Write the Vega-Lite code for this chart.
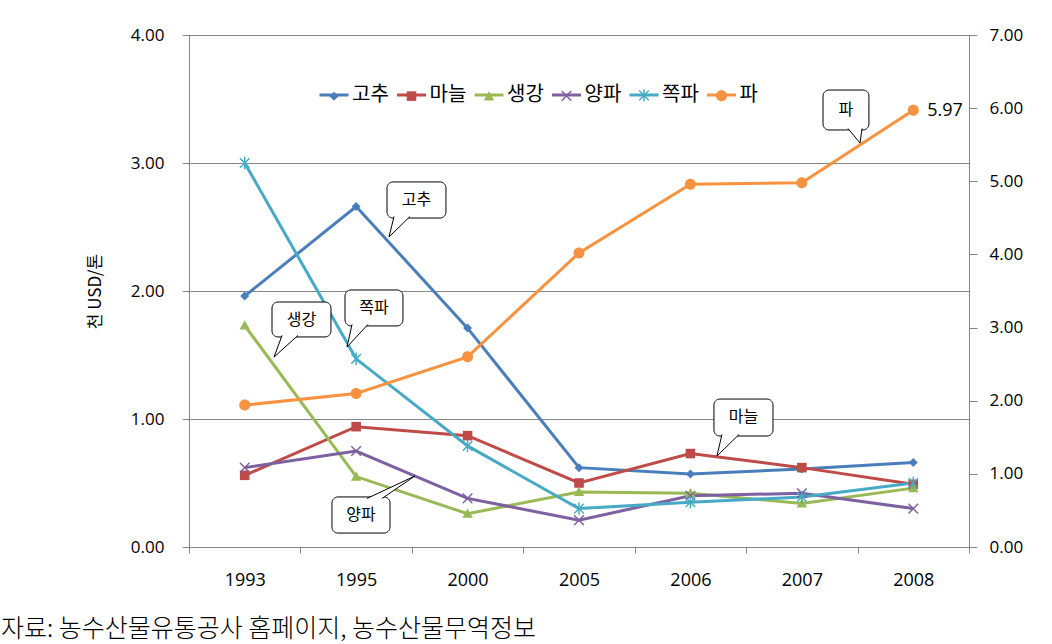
{
  "$schema": "https://vega.github.io/schema/vega-lite/v6.json",
  "width": 780,
  "height": 512,
  "autosize": {"type": "none"},
  "padding": {"left": 189, "top": 35, "right": 83, "bottom": 97},
  "background": "white",
  "config": {
    "view": {"stroke": null},
    "axis": {
      "domainColor": "#868686",
      "tickColor": "#868686",
      "gridColor": "#868686",
      "labelColor": "black",
      "labelFont": "Open Sans",
      "labelFontSize": 17,
      "titleColor": "black"
    }
  },
  "title": {
    "text": "자료: 농수산물유통공사 홈페이지, 농수산물무역정보",
    "orient": "bottom",
    "anchor": "start",
    "frame": "group",
    "dx": -188,
    "offset": 28,
    "baseline": "top",
    "font": "Noto Sans CJK KR",
    "fontSize": 25,
    "fontWeight": 300,
    "color": "black"
  },
  "datasets": {
    "prices": [
      {"year": "1993", "series": "고추", "value": 1.96},
      {"year": "1995", "series": "고추", "value": 2.66},
      {"year": "2000", "series": "고추", "value": 1.71},
      {"year": "2005", "series": "고추", "value": 0.62},
      {"year": "2006", "series": "고추", "value": 0.57},
      {"year": "2007", "series": "고추", "value": 0.61},
      {"year": "2008", "series": "고추", "value": 0.66},
      {"year": "1993", "series": "마늘", "value": 0.56},
      {"year": "1995", "series": "마늘", "value": 0.94},
      {"year": "2000", "series": "마늘", "value": 0.87},
      {"year": "2005", "series": "마늘", "value": 0.50},
      {"year": "2006", "series": "마늘", "value": 0.73},
      {"year": "2007", "series": "마늘", "value": 0.62},
      {"year": "2008", "series": "마늘", "value": 0.49},
      {"year": "1993", "series": "생강", "value": 1.73},
      {"year": "1995", "series": "생강", "value": 0.55},
      {"year": "2000", "series": "생강", "value": 0.26},
      {"year": "2005", "series": "생강", "value": 0.43},
      {"year": "2006", "series": "생강", "value": 0.42},
      {"year": "2007", "series": "생강", "value": 0.34},
      {"year": "2008", "series": "생강", "value": 0.46},
      {"year": "1993", "series": "양파", "value": 0.62},
      {"year": "1995", "series": "양파", "value": 0.75},
      {"year": "2000", "series": "양파", "value": 0.38},
      {"year": "2005", "series": "양파", "value": 0.21},
      {"year": "2006", "series": "양파", "value": 0.40},
      {"year": "2007", "series": "양파", "value": 0.42},
      {"year": "2008", "series": "양파", "value": 0.30},
      {"year": "1993", "series": "쪽파", "value": 3.00},
      {"year": "1995", "series": "쪽파", "value": 1.47},
      {"year": "2000", "series": "쪽파", "value": 0.79},
      {"year": "2005", "series": "쪽파", "value": 0.30},
      {"year": "2006", "series": "쪽파", "value": 0.35},
      {"year": "2007", "series": "쪽파", "value": 0.39},
      {"year": "2008", "series": "쪽파", "value": 0.50},
      {"year": "1993", "series": "파", "value": 1.94},
      {"year": "1995", "series": "파", "value": 2.10},
      {"year": "2000", "series": "파", "value": 2.60},
      {"year": "2005", "series": "파", "value": 4.02},
      {"year": "2006", "series": "파", "value": 4.96},
      {"year": "2007", "series": "파", "value": 4.98},
      {"year": "2008", "series": "파", "value": 5.97}
    ],
    "boxes": [
      {"id": "고추", "x1": 1.777, "x2": 2.306, "y1": 2.852, "y2": 2.570, "lx": 2.042, "ly": 2.711},
      {"id": "쪽파", "x1": 1.400, "x2": 1.920, "y1": 2.008, "y2": 1.727, "lx": 1.660, "ly": 1.867},
      {"id": "생강", "x1": 0.745, "x2": 1.274, "y1": 1.914, "y2": 1.641, "lx": 1.010, "ly": 1.777},
      {"id": "양파", "x1": 1.283, "x2": 1.804, "y1": 0.391, "y2": 0.109, "lx": 1.544, "ly": 0.250},
      {"id": "마늘", "x1": 4.711, "x2": 5.241, "y1": 1.156, "y2": 0.867, "lx": 4.976, "ly": 1.012},
      {"id": "파", "x1": 5.690, "x2": 6.102, "y1": 3.570, "y2": 3.258, "lx": 5.896, "ly": 3.414}
    ],
    "tails": [
      {"id": "고추", "k": 0, "tx": 1.840, "ty": 2.582},
      {"id": "고추", "k": 1, "tx": 1.795, "ty": 2.422},
      {"id": "고추", "k": 2, "tx": 1.983, "ty": 2.582},
      {"id": "쪽파", "k": 0, "tx": 1.463, "ty": 1.739},
      {"id": "쪽파", "k": 1, "tx": 1.418, "ty": 1.5625},
      {"id": "쪽파", "k": 2, "tx": 1.606, "ty": 1.739},
      {"id": "생강", "k": 0, "tx": 0.835, "ty": 1.653},
      {"id": "생강", "k": 1, "tx": 0.763, "ty": 1.484},
      {"id": "생강", "k": 2, "tx": 0.978, "ty": 1.653},
      {"id": "양파", "k": 0, "tx": 1.597, "ty": 0.379},
      {"id": "양파", "k": 1, "tx": 2.028, "ty": 0.555},
      {"id": "양파", "k": 2, "tx": 1.732, "ty": 0.379},
      {"id": "마늘", "k": 0, "tx": 4.783, "ty": 0.879},
      {"id": "마늘", "k": 1, "tx": 4.738, "ty": 0.711},
      {"id": "마늘", "k": 2, "tx": 4.936, "ty": 0.879},
      {"id": "파", "k": 0, "tx": 5.914, "ty": 3.270},
      {"id": "파", "k": 1, "tx": 6.022, "ty": 3.156},
      {"id": "파", "k": 2, "tx": 6.040, "ty": 3.270}
    ]
  },
  "layer": [
    {
      "data": {"name": "prices"},
      "transform": [{"filter": "datum.series !== '파'"}],
      "encoding": {
        "x": {
          "field": "year",
          "type": "ordinal",
          "scale": {"paddingInner": 0, "paddingOuter": 0},
          "axis": {
            "title": null,
            "labelAngle": 0,
            "tickBand": "extent",
            "tickSize": 6,
            "labelPadding": 18,
            "labelFontSize": 18,
            "grid": false
          }
        },
        "y": {
          "field": "value",
          "type": "quantitative",
          "scale": {"domain": [0, 4], "nice": false},
          "axis": {
            "title": "천 USD/톤",
            "titleFont": "Noto Sans CJK KR",
            "titleFontSize": 17,
            "titleFontWeight": "normal",
            "titlePadding": 26,
            "values": [0, 1, 2, 3, 4],
            "format": ".2f",
            "grid": true,
            "tickSize": 7,
            "labelPadding": 18
          }
        }
      },
      "layer": [
        {
          "mark": {"type": "line", "strokeWidth": 3},
          "encoding": {
            "stroke": {
              "field": "series",
              "type": "nominal",
              "scale": {"range": ["#4A7EBB", "#BE4B48", "#98B954", "#7D60A0", "#46AAC5", "#F69240"]},
              "legend": {"orient": "none", "direction": "horizontal", "legendX": 129, "legendY": 44, "title": null, "symbolType": "stroke", "symbolSize": 841, "symbolStrokeWidth": 3, "labelFont": "Noto Sans CJK KR", "labelFontSize": 20, "labelColor": "black", "labelOffset": 2, "columnPadding": 1.5}
            }
          }
        },
        {
          "mark": {"type": "point", "filled": true, "size": 841, "opacity": 1, "strokeWidth": 0},
          "encoding": {
            "color": {
              "field": "series", "type": "nominal",
              "scale": {"domain": ["고추", "마늘", "생강", "양파", "쪽파", "파"], "range": ["#4A7EBB", "#BE4B48", "#98B954", "#7D60A0", "#46AAC5", "#F69240"]},
              "legend": {"orient": "none", "direction": "horizontal", "legendX": 129, "legendY": 44, "title": null, "symbolSize": 841, "symbolStrokeWidth": 3, "symbolStrokeColor": "transparent", "labelFont": "Noto Sans CJK KR", "labelFontSize": 20, "labelOpacity": 0, "labelOffset": 2, "columnPadding": 6.5}
            },
            "shape": {
              "field": "series", "type": "nominal",
              "scale": {"domain": ["고추", "마늘", "생강", "양파", "쪽파", "파"], "range": [
                "M0,-0.31L0.31,0L0,0.31L-0.31,0Z",
                "M-0.33,-0.33H0.33V0.33H-0.33Z",
                "M0,-0.36L0.36,0.28H-0.36Z",
                "M-0.295,-0.365L0.365,0.295L0.295,0.365L-0.365,-0.295ZM-0.365,0.295L0.295,-0.365L0.365,-0.295L-0.295,0.365Z",
                "M-0.295,-0.365L0.365,0.295L0.295,0.365L-0.365,-0.295ZM-0.365,0.295L0.295,-0.365L0.365,-0.295L-0.295,0.365ZM-0.05,-0.43H0.05V0.43H-0.05Z",
                "M-0.38,0A0.38,0.38 0 1,0 0.38,0A0.38,0.38 0 1,0 -0.38,0Z"
              ]},
              "legend": {"orient": "none", "direction": "horizontal", "legendX": 129, "legendY": 44, "title": null, "symbolSize": 841, "symbolStrokeWidth": 3, "symbolStrokeColor": "transparent", "labelFont": "Noto Sans CJK KR", "labelFontSize": 20, "labelOpacity": 0, "labelOffset": 2, "columnPadding": 6.5}
            }
          }
        }
      ]
    },
    {
      "data": {"name": "prices"},
      "transform": [{"filter": "datum.series === '파'"}],
      "encoding": {
        "x": {"field": "year", "type": "ordinal", "scale": {"paddingInner": 0, "paddingOuter": 0}, "axis": null},
        "y": {
          "field": "value",
          "type": "quantitative",
          "scale": {"domain": [0, 7], "nice": false},
          "axis": {
            "orient": "right",
            "title": null,
            "values": [0, 1, 2, 3, 4, 5, 6, 7],
            "format": ".2f",
            "grid": false,
            "tickSize": 8,
            "labelPadding": 12
          }
        }
      },
      "layer": [
        {
          "mark": {"type": "line", "strokeWidth": 3},
          "encoding": {
            "stroke": {
              "field": "series",
              "type": "nominal",
              "scale": {"range": ["#4A7EBB", "#BE4B48", "#98B954", "#7D60A0", "#46AAC5", "#F69240"]},
              "legend": {"orient": "none", "direction": "horizontal", "legendX": 129, "legendY": 44, "title": null, "symbolType": "stroke", "symbolSize": 841, "symbolStrokeWidth": 3, "labelFont": "Noto Sans CJK KR", "labelFontSize": 20, "labelColor": "black", "labelOffset": 2, "columnPadding": 1.5}
            }
          }
        },
        {
          "mark": {"type": "point", "filled": true, "size": 841, "opacity": 1, "strokeWidth": 0},
          "encoding": {
            "color": {"field": "series", "type": "nominal", "scale": {"domain": ["고추", "마늘", "생강", "양파", "쪽파", "파"], "range": ["#4A7EBB", "#BE4B48", "#98B954", "#7D60A0", "#46AAC5", "#F69240"]}},
            "shape": {"field": "series", "type": "nominal"}
          }
        },
        {
          "transform": [{"filter": "datum.year === '2008'"}],
          "mark": {"type": "text", "align": "left", "baseline": "middle", "dx": 14, "dy": 1, "font": "Open Sans", "fontSize": 18, "color": "black"},
          "encoding": {"text": {"field": "value", "type": "quantitative", "format": ".2f"}}
        }
      ]
    },
    {
      "encoding": {
        "x": {"type": "quantitative", "scale": {"domain": [0, 7], "nice": false, "zero": false}, "axis": null},
        "y": {"type": "quantitative", "scale": {"domain": [0, 4], "nice": false}, "axis": null}
      },
      "layer": [
        {
          "data": {"name": "boxes"},
          "mark": {"type": "rect", "fill": "white", "stroke": "black", "strokeWidth": 1, "cornerRadius": 6},
          "encoding": {
            "x": {"field": "x1", "type": "quantitative", "scale": {"domain": [0, 7], "nice": false, "zero": false}, "axis": null},
            "x2": {"field": "x2"},
            "y": {"field": "y1", "type": "quantitative", "scale": {"domain": [0, 4], "nice": false}, "axis": null},
            "y2": {"field": "y2"}
          }
        },
        {
          "data": {"name": "tails"},
          "mark": {"type": "line", "fill": "white", "stroke": "black", "strokeWidth": 1},
          "encoding": {
            "x": {"field": "tx", "type": "quantitative", "scale": {"domain": [0, 7], "nice": false, "zero": false}, "axis": null},
            "y": {"field": "ty", "type": "quantitative", "scale": {"domain": [0, 4], "nice": false}, "axis": null},
            "detail": {"field": "id"},
            "order": {"field": "k"}
          }
        },
        {
          "data": {"name": "boxes"},
          "mark": {"type": "text", "font": "Noto Sans CJK KR", "fontSize": 16, "color": "black", "baseline": "middle", "align": "center"},
          "encoding": {
            "x": {"field": "lx", "type": "quantitative", "scale": {"domain": [0, 7], "nice": false, "zero": false}, "axis": null},
            "y": {"field": "ly", "type": "quantitative", "scale": {"domain": [0, 4], "nice": false}, "axis": null},
            "text": {"field": "id"}
          }
        }
      ]
    }
  ],
  "resolve": {"scale": {"x": "independent", "y": "independent"}}
}
